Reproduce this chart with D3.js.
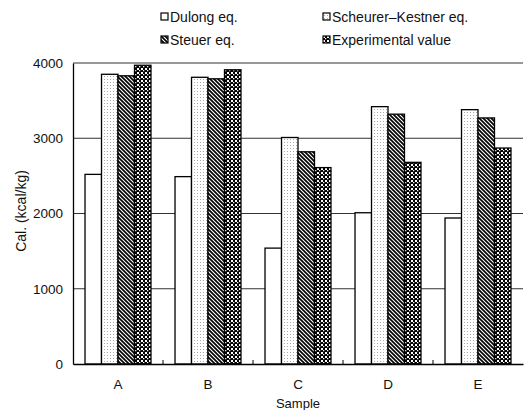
<!DOCTYPE html>
<html>
<head>
<meta charset="utf-8">
<script src="https://cdn.jsdelivr.net/npm/d3@7"></script>
<style>
body { margin: 0; background: #fff; }
text { font-family: "Liberation Sans", Arial, sans-serif; fill: #111; }
</style>
</head>
<body>
<svg class="mysvg"></svg>
<script>
var samples = ["A", "B", "C", "D", "E"];
var seriesNames = ["Dulong eq.", "Scheurer\u2013Kestner eq.", "Steuer eq.", "Experimental value"];
var dulong = [2520, 2490, 1540, 2010, 1940];
var scheurer = [3850, 3810, 3010, 3420, 3380];
var steuer = [3830, 3790, 2820, 3320, 3270];
var experimental = [3970, 3910, 2610, 2680, 2870];
var yTicks = [0, 1000, 2000, 3000, 4000];

var series = [dulong, scheurer, steuer, experimental];

var svgWidth = 525, svgHeight = 410;
// note: "top" is taken by window.top, so use plot* names
var plotLeft = 73, plotRight = 523, plotTop = 63, plotBottom = 364;

var svg = d3.select(".mysvg")
    .attr("width", svgWidth)
    .attr("height", svgHeight);

// fill patterns for the four series
var defs = svg.append("defs");

var dots = defs.append("pattern").attr("id", "dots")
    .attr("patternUnits", "userSpaceOnUse").attr("width", 3).attr("height", 3);
dots.append("rect").attr("width", 3).attr("height", 3).attr("fill", "#fff");
dots.append("rect").attr("x", 1).attr("y", 1).attr("width", 1).attr("height", 1).attr("fill", "#aaa");

var hatch = defs.append("pattern").attr("id", "hatch")
    .attr("patternUnits", "userSpaceOnUse").attr("width", 4).attr("height", 4);
hatch.append("rect").attr("width", 4).attr("height", 4).attr("fill", "#fff");
hatch.append("path").attr("d", "M-1,-1 L5,5 M-1,3 L1,5 M3,-1 L5,1")
    .attr("stroke", "#000").attr("stroke-width", 1.7);

var check = defs.append("pattern").attr("id", "check")
    .attr("patternUnits", "userSpaceOnUse").attr("width", 4).attr("height", 4);
check.append("rect").attr("width", 4).attr("height", 4).attr("fill", "#000");
check.append("rect").attr("x", 0).attr("y", 0).attr("width", 2).attr("height", 2).attr("fill", "#fff");
check.append("rect").attr("x", 2).attr("y", 2).attr("width", 1.3).attr("height", 1.3).attr("fill", "#fff");

var fills = ["#fff", "url(#dots)", "url(#hatch)", "url(#check)"];

var x0 = d3.scaleBand().domain(samples).range([plotLeft, plotRight])
    .paddingInner(0.267).paddingOuter(0.1335);
var x1 = d3.scaleBand().domain(d3.range(series.length)).range([0, x0.bandwidth()]);
var y = d3.scaleLinear().domain([0, 4000]).range([plotBottom, plotTop]);

// gridlines
svg.append("g").selectAll("line")
    .data(yTicks.slice(1))
    .enter().append("line")
    .attr("x1", plotLeft).attr("x2", plotRight)
    .attr("y1", function(d) { return y(d); })
    .attr("y2", function(d) { return y(d); })
    .attr("stroke", "#333").attr("stroke-width", 1);

// bars
var groups = svg.append("g").selectAll("g")
    .data(samples)
    .enter().append("g")
    .attr("transform", function(d) { return "translate(" + x0(d) + ",0)"; });

groups.selectAll("rect")
    .data(function(d, i) { return series.map(function(s, k) { return {k: k, v: s[i]}; }); })
    .enter().append("rect")
    .attr("x", function(d) { return x1(d.k); })
    .attr("y", function(d) { return y(d.v); })
    .attr("width", x1.bandwidth())
    .attr("height", function(d) { return plotBottom - y(d.v); })
    .attr("fill", function(d) { return fills[d.k]; })
    .attr("stroke", "#000").attr("stroke-width", 1.3);

// y axis
var yAxis = svg.append("g")
    .attr("transform", "translate(" + plotLeft + ",0)")
    .call(d3.axisLeft(y).tickValues(yTicks).tickFormat(d3.format("d")).tickSize(0).tickPadding(10));
yAxis.select(".domain").attr("stroke", "#000").attr("stroke-width", 1.3);
yAxis.selectAll("text").style("font-size", "13.5px").style("font-family", "Liberation Sans, Arial, sans-serif");

// x axis with small inward ticks at the group boundaries
var xAxis = svg.append("g")
    .attr("transform", "translate(0," + plotBottom + ")")
    .call(d3.axisBottom(x0).tickSize(0).tickPadding(15));
xAxis.select(".domain").attr("stroke", "#000").attr("stroke-width", 1.5);
xAxis.selectAll("text").style("font-size", "13.5px").style("font-family", "Liberation Sans, Arial, sans-serif");
xAxis.selectAll(".sep")
    .data(samples.slice(1))
    .enter().append("line")
    .attr("x1", function(d) { return x0(d) - x0.step() * 0.1335; })
    .attr("x2", function(d) { return x0(d) - x0.step() * 0.1335; })
    .attr("y1", 0).attr("y2", -4)
    .attr("stroke", "#000");

// axis titles
svg.append("text")
    .attr("x", (plotLeft + plotRight) / 2).attr("y", 408)
    .attr("text-anchor", "middle").style("font-size", "13px")
    .text("Sample");
svg.append("text")
    .attr("transform", "translate(26," + 211 + ") rotate(-90)")
    .attr("text-anchor", "middle").style("font-size", "14px")
    .text("Cal.  (kcal/kg)");

// legend
var legendPos = [[161, 17], [323, 17], [161, 40], [323, 40]];
var legend = svg.append("g").selectAll("g")
    .data(seriesNames)
    .enter().append("g")
    .attr("transform", function(d, i) { return "translate(" + legendPos[i][0] + "," + legendPos[i][1] + ")"; });
legend.append("rect")
    .attr("x", 0).attr("y", -4).attr("width", 7).attr("height", 7)
    .attr("fill", function(d, i) { return fills[i]; })
    .attr("stroke", "#000").attr("stroke-width", 1.2);
legend.append("text")
    .attr("x", 9).attr("y", 0).attr("dy", "0.35em")
    .style("font-size", "14px")
    .text(function(d) { return d; });
</script>
</body>
</html>
